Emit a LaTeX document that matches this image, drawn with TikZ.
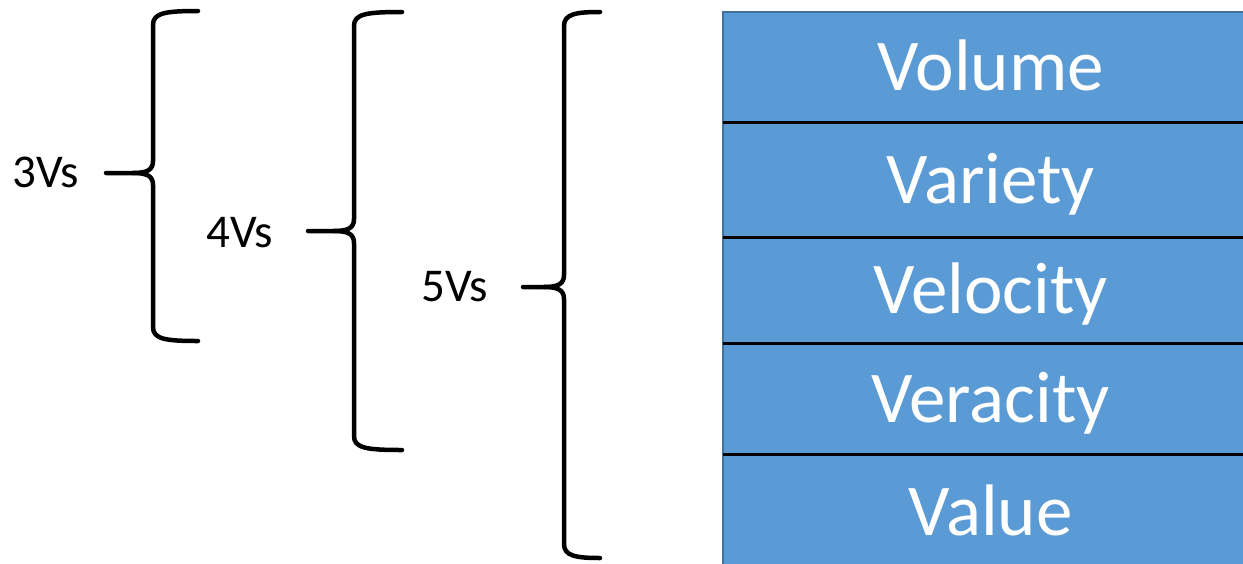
\documentclass[tikz,border=0pt]{standalone}
\usepackage{fontspec}
\setmainfont{Carlito}
\definecolor{boxblue}{HTML}{5B9BD5}
\definecolor{boxedge}{HTML}{41719C}
\tikzset{
  brace/.style={line width=4.5pt, line cap=round, line join=round},
  vlabel/.style={anchor=base west, inner sep=0pt, font=\fontsize{47}{52}\selectfont},
  rowbox/.style={anchor=north west, fill=boxblue, draw=none, minimum width=535pt,
    inner sep=0pt, text=white, text height=47pt, text depth=0pt,
    font=\fontsize{73}{80}\selectfont},
  sep/.style={line width=3.6pt, black}
}
\newcommand\drawbrace[6]{%
  \draw[brace] (#6,#2) .. controls (#1+12,#2) and (#1,#2+2) .. (#1,#2+14)
    -- (#1,#5-12) .. controls (#1,#5-3) and (#1-6,#5) .. (#1-20,#5) -- (#4,#5);
  \draw[brace] (#6,#3) .. controls (#1+12,#3) and (#1,#3-2) .. (#1,#3-14)
    -- (#1,#5+12) .. controls (#1,#5+3) and (#1-6,#5) .. (#1-20,#5);
}
\begin{document}
\begin{tikzpicture}[x=1pt,y=-1pt]
\useasboundingbox (0,0) rectangle (1243,563);
% rows
\node[rowbox, minimum height=110pt] (r1) at (723,12) {Volume};
\node[rowbox, minimum height=115pt] (r2) at (723,122) {Variety};
\node[rowbox, minimum height=106pt] (r3) at (723,237) {Velocity};
\node[rowbox, minimum height=111pt] (r4) at (723,343) {Veracity};
\node[rowbox, minimum height=115pt] (r5) at (723,454) {Value};
\draw[boxedge, line width=1.2pt] (r5.south west) -- (r1.north west) -- (r1.north east);
\draw[sep] (r1.south west) -- (r1.south east);
\draw[sep] (r2.south west) -- (r2.south east);
\draw[sep] (r3.south west) -- (r3.south east);
\draw[sep] (r4.south west) -- (r4.south east);
% braces
\drawbrace{153}{11}{341}{106}{173}{198}
\drawbrace{354}{12}{450}{308}{231}{402}
\drawbrace{564}{12}{558}{523}{287}{600}
% labels
\node[vlabel] (l3) at (12,187) {3Vs};
\node[vlabel] (l4) at (206,247) {4Vs};
\node[vlabel] (l5) at (421,301) {5Vs};
\end{tikzpicture}
\end{document}
